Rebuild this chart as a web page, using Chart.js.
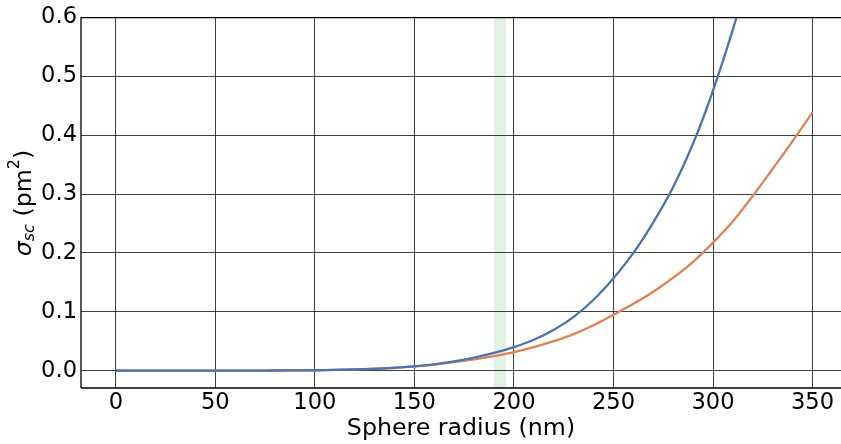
<!DOCTYPE html>
<html>
<head>
<meta charset="utf-8">
<script src="https://cdn.jsdelivr.net/npm/chart.js@4/dist/chart.umd.min.js"></script>
<style>
  body { margin: 0; background: #fff; overflow: hidden; }
  canvas { display: block; }
</style>
</head>
<body>
<canvas id="grafica" width="841" height="444"></canvas>
<script>
// radio de la esfera (nm)
const radius = [0, 10, 20, 30, 40, 50, 60, 70, 80, 90, 100, 110, 120, 130, 140, 150, 160, 170,
  180, 190, 200, 210, 220, 230, 240, 250, 260, 270, 280, 290, 300, 310, 320, 330, 340, 350];

// sigma_sc (pm^2), curva azul (sale por arriba pasado ~313 nm)
const blueVals = [0, 0, 0, 0, 0, 0, 0, 0.0001, 0.0002, 0.0004, 0.0007, 0.0012, 0.0020, 0.0032,
  0.0049, 0.0072, 0.0107, 0.0156, 0.0220, 0.0300, 0.0400, 0.0524, 0.0695, 0.0915, 0.1205, 0.157,
  0.200, 0.252, 0.312, 0.386, 0.476, 0.580, 0.700];

// sigma_sc (pm^2), curva naranja
const orangeVals = [0, 0, 0, 0, 0, 0, 0, 0.0001, 0.0002, 0.0004, 0.0007, 0.0012, 0.0020, 0.0031,
  0.0048, 0.0072, 0.0103, 0.0143, 0.0190, 0.0248, 0.0316, 0.040, 0.050, 0.062, 0.077, 0.095,
  0.1135, 0.134, 0.158, 0.185, 0.2176, 0.254, 0.297, 0.343, 0.390, 0.439];

// franja verde (nm)
const band = [190, 196];

const xTicks = [0, 50, 100, 150, 200, 250, 300, 350];
const yTicks = [0.0, 0.1, 0.2, 0.3, 0.4, 0.5, 0.6];

function puntos(vals) {
  return vals.map((v, i) => ({ x: radius[i], y: v }));
}

const fuente = '"DejaVu Sans", sans-serif';

// franja verde, debajo de la rejilla
const franja = {
  id: 'franja',
  beforeDraw(chart) {
    const { ctx, chartArea, scales } = chart;
    const x0 = scales.x.getPixelForValue(band[0]);
    const x1 = scales.x.getPixelForValue(band[1]);
    ctx.save();
    ctx.fillStyle = 'rgba(85,168,104,0.17)';
    ctx.fillRect(x0, chartArea.top, x1 - x0, chartArea.bottom - chartArea.top);
    ctx.restore();
  }
};

// bordes y titulo del eje y con sub/superindice
const marco = {
  id: 'marco',
  afterDraw(chart) {
    const { ctx, chartArea } = chart;
    ctx.save();
    ctx.strokeStyle = '#000';
    ctx.lineWidth = 1.3;
    ctx.beginPath();
    ctx.moveTo(chartArea.left, chartArea.bottom);
    ctx.lineTo(chartArea.left, chartArea.top);
    ctx.lineTo(chartArea.right + 2, chartArea.top);
    ctx.moveTo(chartArea.left, chartArea.bottom);
    ctx.lineTo(chartArea.right + 2, chartArea.bottom);
    ctx.stroke();

    const partes = [
      { t: 'σ', f: 'italic 23.7px ' + fuente, dy: 0 },
      { t: 'sc', f: 'italic 16px ' + fuente, dy: 5 },
      { t: ' (pm', f: '23.7px ' + fuente, dy: 0 },
      { t: '2', f: '16px ' + fuente, dy: -10 },
      { t: ')', f: '23.7px ' + fuente, dy: 0 }
    ];
    let total = 0;
    partes.forEach(p => { ctx.font = p.f; p.w = ctx.measureText(p.t).width; total += p.w; });
    ctx.translate(25, 203);
    ctx.rotate(-Math.PI / 2);
    ctx.fillStyle = '#000';
    ctx.textBaseline = 'middle';
    let x = -total / 2;
    partes.forEach(p => {
      ctx.font = p.f;
      ctx.fillText(p.t, x, p.dy);
      x += p.w;
    });
    ctx.restore();
  }
};

new Chart(document.getElementById('grafica'), {
  type: 'line',
  data: {
    datasets: [
      {
        label: 'azul',
        data: puntos(blueVals),
        borderColor: '#4c72b0',
        borderWidth: 2.3,
        pointRadius: 0,
        tension: 0.35
      },
      {
        label: 'naranja',
        data: puntos(orangeVals),
        borderColor: '#dd8452',
        borderWidth: 2.3,
        pointRadius: 0,
        tension: 0.35
      }
    ]
  },
  options: {
    responsive: false,
    animation: false,
    layout: { padding: { top: 15, right: 0, left: 0, bottom: 0 } },
    plugins: { legend: { display: false }, tooltip: { enabled: false } },
    scales: {
      x: {
        type: 'linear',
        min: -17.5,
        max: 364.3,
        afterBuildTicks: s => { s.ticks = xTicks.map(v => ({ value: v })); },
        afterFit: s => { s.height = 56; },
        grid: { color: 'rgba(0,0,0,0.75)', lineWidth: 1, drawTicks: false },
        border: { display: false },
        ticks: { color: '#000', font: { family: fuente, size: 22.6 }, padding: 2, maxRotation: 0 },
        title: {
          display: true,
          text: 'Sphere radius (nm)',
          color: '#000',
          font: { family: fuente, size: 23.7 },
          padding: { top: 0, bottom: 1 }
        }
      },
      y: {
        min: -0.0295,
        max: 0.6,
        afterBuildTicks: s => { s.ticks = yTicks.map(v => ({ value: v })); },
        afterFit: s => { s.width = 81; },
        grid: { color: 'rgba(0,0,0,0.75)', lineWidth: 1, drawTicks: false },
        border: { display: false },
        ticks: {
          color: '#000',
          font: { family: fuente, size: 22.6 },
          padding: 4,
          callback: v => v.toFixed(1)
        }
      }
    }
  },
  plugins: [franja, marco]
});
</script>
</body>
</html>
